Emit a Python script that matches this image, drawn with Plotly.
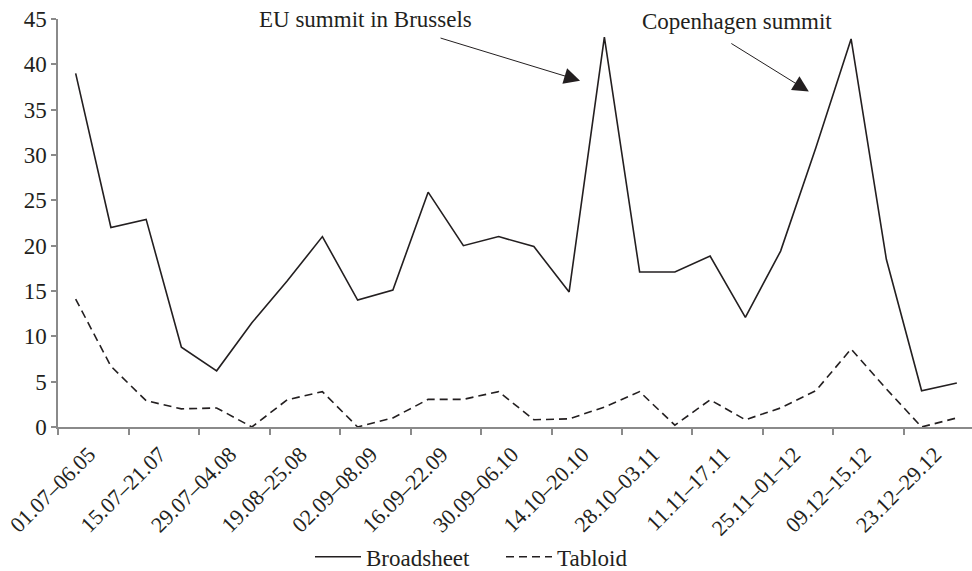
import plotly.graph_objects as go

# Tick labels (every second week range is labelled)
tick_labels = ["01.07–06.05", "15.07–21.07", "29.07–04.08", "19.08–25.08",
               "02.09–08.09", "16.09–22.09", "30.09–06.10", "14.10–20.10",
               "28.10–03.11", "11.11–17.11", "25.11–01–12", "09.12–15.12",
               "23.12–29.12"]

# Weekly article counts (26 weeks)
broadsheet = [39, 22, 22.9, 8.8, 6.2, 11.5, 16.1, 21, 14, 15.1, 25.9, 20, 21,
              19.9, 14.9, 43, 17.1, 17.1, 18.85, 12.1, 19.4, 30.8, 42.8, 18.5,
              4, 4.85]
tabloid = [14.1, 6.7, 2.9, 2.0, 2.1, 0, 3.0, 3.9, 0, 1.0, 3.05, 3.05, 3.9,
           0.8, 0.9, 2.2, 3.9, 0.2, 3.0, 0.8, 2.1, 4.0, 8.6, 4.2, 0, 1.0]

weeks = list(range(len(broadsheet)))
label_pos = [2 * k - 0.5 for k in range(len(tick_labels))]

INK = "#231f20"
AXIS = "#8a8a8a"
FONT = "Liberation Serif"
FS = 23

fig = go.Figure()
fig.add_trace(go.Scatter(x=weeks, y=broadsheet, mode="lines", name="Broadsheet",
                         line=dict(color=INK, width=1.6)))
fig.add_trace(go.Scatter(x=weeks, y=tabloid, mode="lines", name="Tabloid",
                         line=dict(color=INK, width=1.6, dash="8px,5px")))

fig.update_layout(
    template="none",
    width=972, height=571,
    margin=dict(l=58, r=0, t=19, b=144, pad=0, autoexpand=False),
    paper_bgcolor="white", plot_bgcolor="white",
    font=dict(family=FONT, size=FS, color=INK),
    showlegend=True,
    legend=dict(orientation="h", x=0.2757, xanchor="left",
                yref="paper", y=-0.318, yanchor="middle",
                itemwidth=46, entrywidth=130, entrywidthmode="pixels",
                font=dict(family=FONT, size=FS, color=INK),
                bgcolor="rgba(0,0,0,0)"),
    xaxis=dict(range=[-0.501, 25.43], tickmode="array", tickvals=label_pos,
               ticktext=tick_labels, tickangle=-45, ticks="outside",
               ticklen=6, tickwidth=1.5, tickcolor=AXIS, showline=True,
               linecolor=AXIS, linewidth=1.5, showgrid=False, zeroline=False,
               automargin=False, ticklabelshift=31, ticklabelstandoff=-2,
               ticklabeloverflow="allow",
               tickfont=dict(family=FONT, size=22, color=INK)),
    yaxis=dict(range=[0, 45], tickmode="linear", tick0=0, dtick=5,
               ticks="outside", ticklen=5, tickwidth=1.5, tickcolor=AXIS,
               showline=True, linecolor=AXIS, linewidth=1.5, showgrid=False,
               zeroline=False, automargin=False,
               tickfont=dict(family=FONT, size=FS, color=INK)),
)

# Text labels
fig.add_annotation(x=8.21, y=45.0, xref="x", yref="y", text="EU summit in Brussels",
                   showarrow=False, font=dict(family=FONT, size=FS, color=INK))
fig.add_annotation(x=18.76, y=44.7, xref="x", yref="y", text="Copenhagen summit",
                   showarrow=False, font=dict(family=FONT, size=FS, color=INK))
# Arrows
fig.add_annotation(x=14.31, y=38.2, ax=10.31, ay=42.95, xref="x", yref="y",
                   axref="x", ayref="y", text="", showarrow=True, arrowhead=2,
                   arrowsize=3.2, arrowwidth=1, arrowcolor=INK)
fig.add_annotation(x=20.8, y=37.0, ax=18.56, ay=42.4, xref="x", yref="y",
                   axref="x", ayref="y", text="", showarrow=True, arrowhead=2,
                   arrowsize=3.2, arrowwidth=1, arrowcolor=INK)

fig.write_html("out.html", config={"displayModeBar": False},
               post_script="document.body.style.margin='0';")
